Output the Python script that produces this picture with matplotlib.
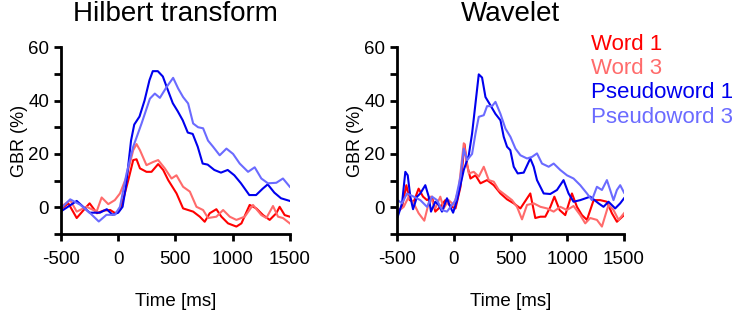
import matplotlib.pyplot as plt

plt.rcParams['font.family'] = ['Liberation Sans', 'DejaVu Sans']
plt.rcParams['axes.unicode_minus'] = False

# Hilbert transform panel
hil_pw1_t = [-500, -363, -250, -160, -100, -50, 0, 38, 67, 112, 140, 186, 230, 273, 302, 346, 390, 433, 477,
             520, 564, 608, 651, 695, 738, 782, 840, 898, 957, 1015, 1073, 1146, 1205, 1263, 1307, 1365, 1423, 1500]
hil_pw1 = [-1.5, 2.4, -2, -2, -0.7, -2.8, -2, 0.2, 7.7, 25, 31, 34, 40, 47.6, 51, 51, 49, 44, 39,
           36, 32.6, 28, 27.5, 22.7, 16.4, 16, 14, 13, 14, 12, 9, 4.6, 4.6, 7, 8.6, 5.5, 3.4, 2.4]

hil_pw3_t = [-500, -420, -333, -250, -170, -103, -30, 15, 73, 131, 204, 277, 320, 364, 422, 480, 524, 567, 611,
             655, 698, 742, 785, 829, 887, 946, 1004, 1062, 1135, 1193, 1251, 1309, 1382, 1440, 1500]
hil_pw3 = [-0.4, 3, 1, -2, -5.3, -2.8, -2.8, 0.2, 12.7, 22.7, 31.4, 40.7, 42.6, 41, 45, 48.5, 44.5, 41.3, 38.9,
           31.4, 30, 29.6, 25, 22.7, 19.5, 22, 20, 16.4, 13.3, 15, 10.8, 9, 9.2, 10.8, 7.7]

hil_w1_t = [-500, -436, -363, -290, -250, -186, -128, -70, -26, 15, 50, 88, 131, 160, 190, 247, 291, 349, 393,
            437, 510, 567, 611, 655, 713, 756, 800, 858, 902, 960, 1033, 1077, 1149, 1207, 1266, 1324, 1382,
            1411, 1455, 1500]
hil_w1 = [-0.7, 1.5, -4, -0.4, 1.5, -2.2, -1.2, -1, -2.2, -1, 4, 10.2, 17.7, 18, 14.6, 13.3, 13.3, 16.2, 14,
          10.2, 5.2, -0.4, -1, -1.6, -3.5, -5.4, -2.2, -0.7, -3.5, -6, -7.2, -6, 0.9, -0.4, -2.9, -4.7, -2.2,
          0.2, -2.9, -3.5]

hil_w3_t = [-500, -420, -363, -276, -189, -145, -87, -30, 15, 73, 131, 160, 190, 247, 306, 349, 407, 466, 509,
            567, 626, 684, 742, 785, 858, 917, 975, 1033, 1106, 1178, 1251, 1295, 1353, 1397, 1440, 1500]
hil_w3 = [0.2, 2.7, -1.6, 0.2, -1.6, 3.7, 1.2, 2.7, 5.2, 11.5, 21.4, 23.7, 21.4, 15.8, 17, 17.7, 14.6, 10.8, 12,
          7.7, 5.9, 0.2, -1, -4, -3.5, -1, -3.5, -4.7, -3.5, 0.9, -2.9, -4, 0.5, -3.5, -4, -6]

# Wavelet panel
wav_pw1_t = [-494, -456, -427, -406, -383, -359, -324, -295, -251, -221, -201, -163, -133, -104, -60, -31, -6,
             29, 88, 132, 161, 191, 220, 249, 279, 323, 367, 411, 440, 469, 498, 528, 563, 616, 674, 704, 733,
             792, 850, 909, 967, 1011, 1055, 1114, 1202, 1275, 1319, 1363, 1422, 1466, 1500]
wav_pw1 = [-3.5, 1.5, 13.3, 12, 4, -0.7, 4, 5.2, 8.3, 4, -1.6, 2.1, 0.9, -1.6, 3.4, 0.2, -2,
           2.7, 14, 19.5, 27.6, 38.9, 49.8, 48.6, 41.3, 38.2, 35, 32.6, 26.4, 22.7, 21.4, 15.2, 12.7, 13, 18.3,
           15.2, 10.2, 5.2, 5, 6.5, 10.2, 5.2, 2.1, 2.7, 4, 1.5, 0.2, 2.1, -0.4, 1.5, 3.4]

wav_pw3_t = [-494, -456, -412, -353, -295, -236, -192, -148, -104, -60, -15, 15, 59, 88, 117, 161, 191, 220,
             264, 293, 337, 367, 411, 455, 499, 543, 587, 645, 689, 733, 777, 836, 880, 938, 997, 1055, 1114,
             1173, 1217, 1261, 1305, 1349, 1407, 1437, 1466, 1500]
wav_pw3 = [2.7, 1.5, 5.2, 4, 2.7, 0.2, 4, 2.7, -1, -1.6, 0.9, 2.7, 11.5, 22, 17.7, 20, 27.6, 33.9,
           34.5, 37.9, 37.9, 39.5, 35, 29.5, 26.4, 22, 19.5, 18.3, 18.9, 20.2, 16.4, 15.2, 16.4, 14, 12, 10.8,
           8.3, 5.2, 2.7, 7.7, 6.5, 10.2, 2.7, 6.5, 8.3, 5.5]

wav_w1_t = [-494, -456, -418, -389, -353, -310, -271, -236, -192, -163, -119, -75, -31, 15, 59, 94, 117, 147,
            191, 235, 293, 352, 411, 469, 528, 587, 674, 718, 763, 806, 851, 886, 932, 982, 1041, 1085, 1129,
            1173, 1232, 1290, 1349, 1393, 1437, 1500]
wav_w1 = [-1.6, 0.2, 8.3, 2.7, 2.1, 7, 4, 2.7, 4, -1.6, 0.2, 2.7, 0.5, -0.4, 7.7, 23.7, 15.8, 10.8,
          12, 9, 10.2, 8.3, 5.2, 3, 1.5, -0.4, 5.2, -4, -3.5, -3.5, 0.2, 4, -1, -2.9, 5.2, 0.2, -2.9,
          -4.7, 2.7, 2.7, 2.1, -2.2, -5.4, -2.9]

wav_w3_t = [-494, -441, -397, -353, -310, -260, -207, -163, -119, -89, -45, 0, 44, 88, 132, 176, 220, 264,
            308, 352, 396, 455, 513, 557, 601, 645, 704, 763, 821, 880, 938, 997, 1055, 1114, 1158, 1202, 1261,
            1305, 1363, 1407, 1452, 1500]
wav_w3 = [-1.6, 0.2, 4, 1.5, -2.2, -5, 4, -0.4, 4, -0.4, 2.7, 0.9, 7, 24, 12.7, 13.3, 11.5, 15.2,
          10.2, 9.6, 6.5, 4.6, 2.7, 0.2, -4.5, 0.9, 1.5, 0.2, -0.4, -1.6, 0.2, -1, 0.5, -2.9, -6, -4, -4.7,
          -7.2, 0.9, -1, -4.7, -2.2]

labels = ['Word 1', 'Word 3', 'Pseudoword 1', 'Pseudoword 3']
colors = ['#ff0000', '#ff6b6b', '#0000ee', '#6b6bff']

fig = plt.figure(figsize=(7.38, 3.10), dpi=100)
ax1 = fig.add_axes([0.0827, 0.245, 0.310, 0.603])
ax2 = fig.add_axes([0.538, 0.245, 0.3076, 0.603])

panels = [
    (ax1, 'Hilbert transform', [(hil_w1_t, hil_w1), (hil_w3_t, hil_w3), (hil_pw1_t, hil_pw1), (hil_pw3_t, hil_pw3)]),
    (ax2, 'Wavelet', [(wav_w1_t, wav_w1), (wav_w3_t, wav_w3), (wav_pw1_t, wav_pw1), (wav_pw3_t, wav_pw3)]),
]

for ax, title, series in panels:
    for (t, v), c in zip(series, colors):
        ax.plot(t, v, color=c, lw=1.5)
    ax.set_xlim(-500, 1500)
    ax.set_ylim(-10, 60)
    ax.set_xticks([-500, 0, 500, 1000, 1500])
    ax.set_yticks([0, 20, 40, 60])
    ax.set_yticks([-10, 10, 30, 50], minor=True)
    for s in ['top', 'right']:
        ax.spines[s].set_visible(False)
    for s in ['left', 'bottom']:
        ax.spines[s].set_linewidth(2)
    ax.tick_params(which='both', width=2, length=5, labelsize=13.5)
    ax.tick_params(axis='x', pad=7)
    ax.set_title(title, fontsize=20, pad=19)
    ax.set_xlabel('Time [ms]', fontsize=13.5, labelpad=18)
    ax.set_ylabel('GBR (%)', fontsize=13, labelpad=0)

for i, (lab, c) in enumerate(zip(labels, colors)):
    fig.text(0.801, 0.858 - i * 0.079, lab, color=c, fontsize=16, va='center', ha='left')

fig.savefig('out.png', dpi=100)
